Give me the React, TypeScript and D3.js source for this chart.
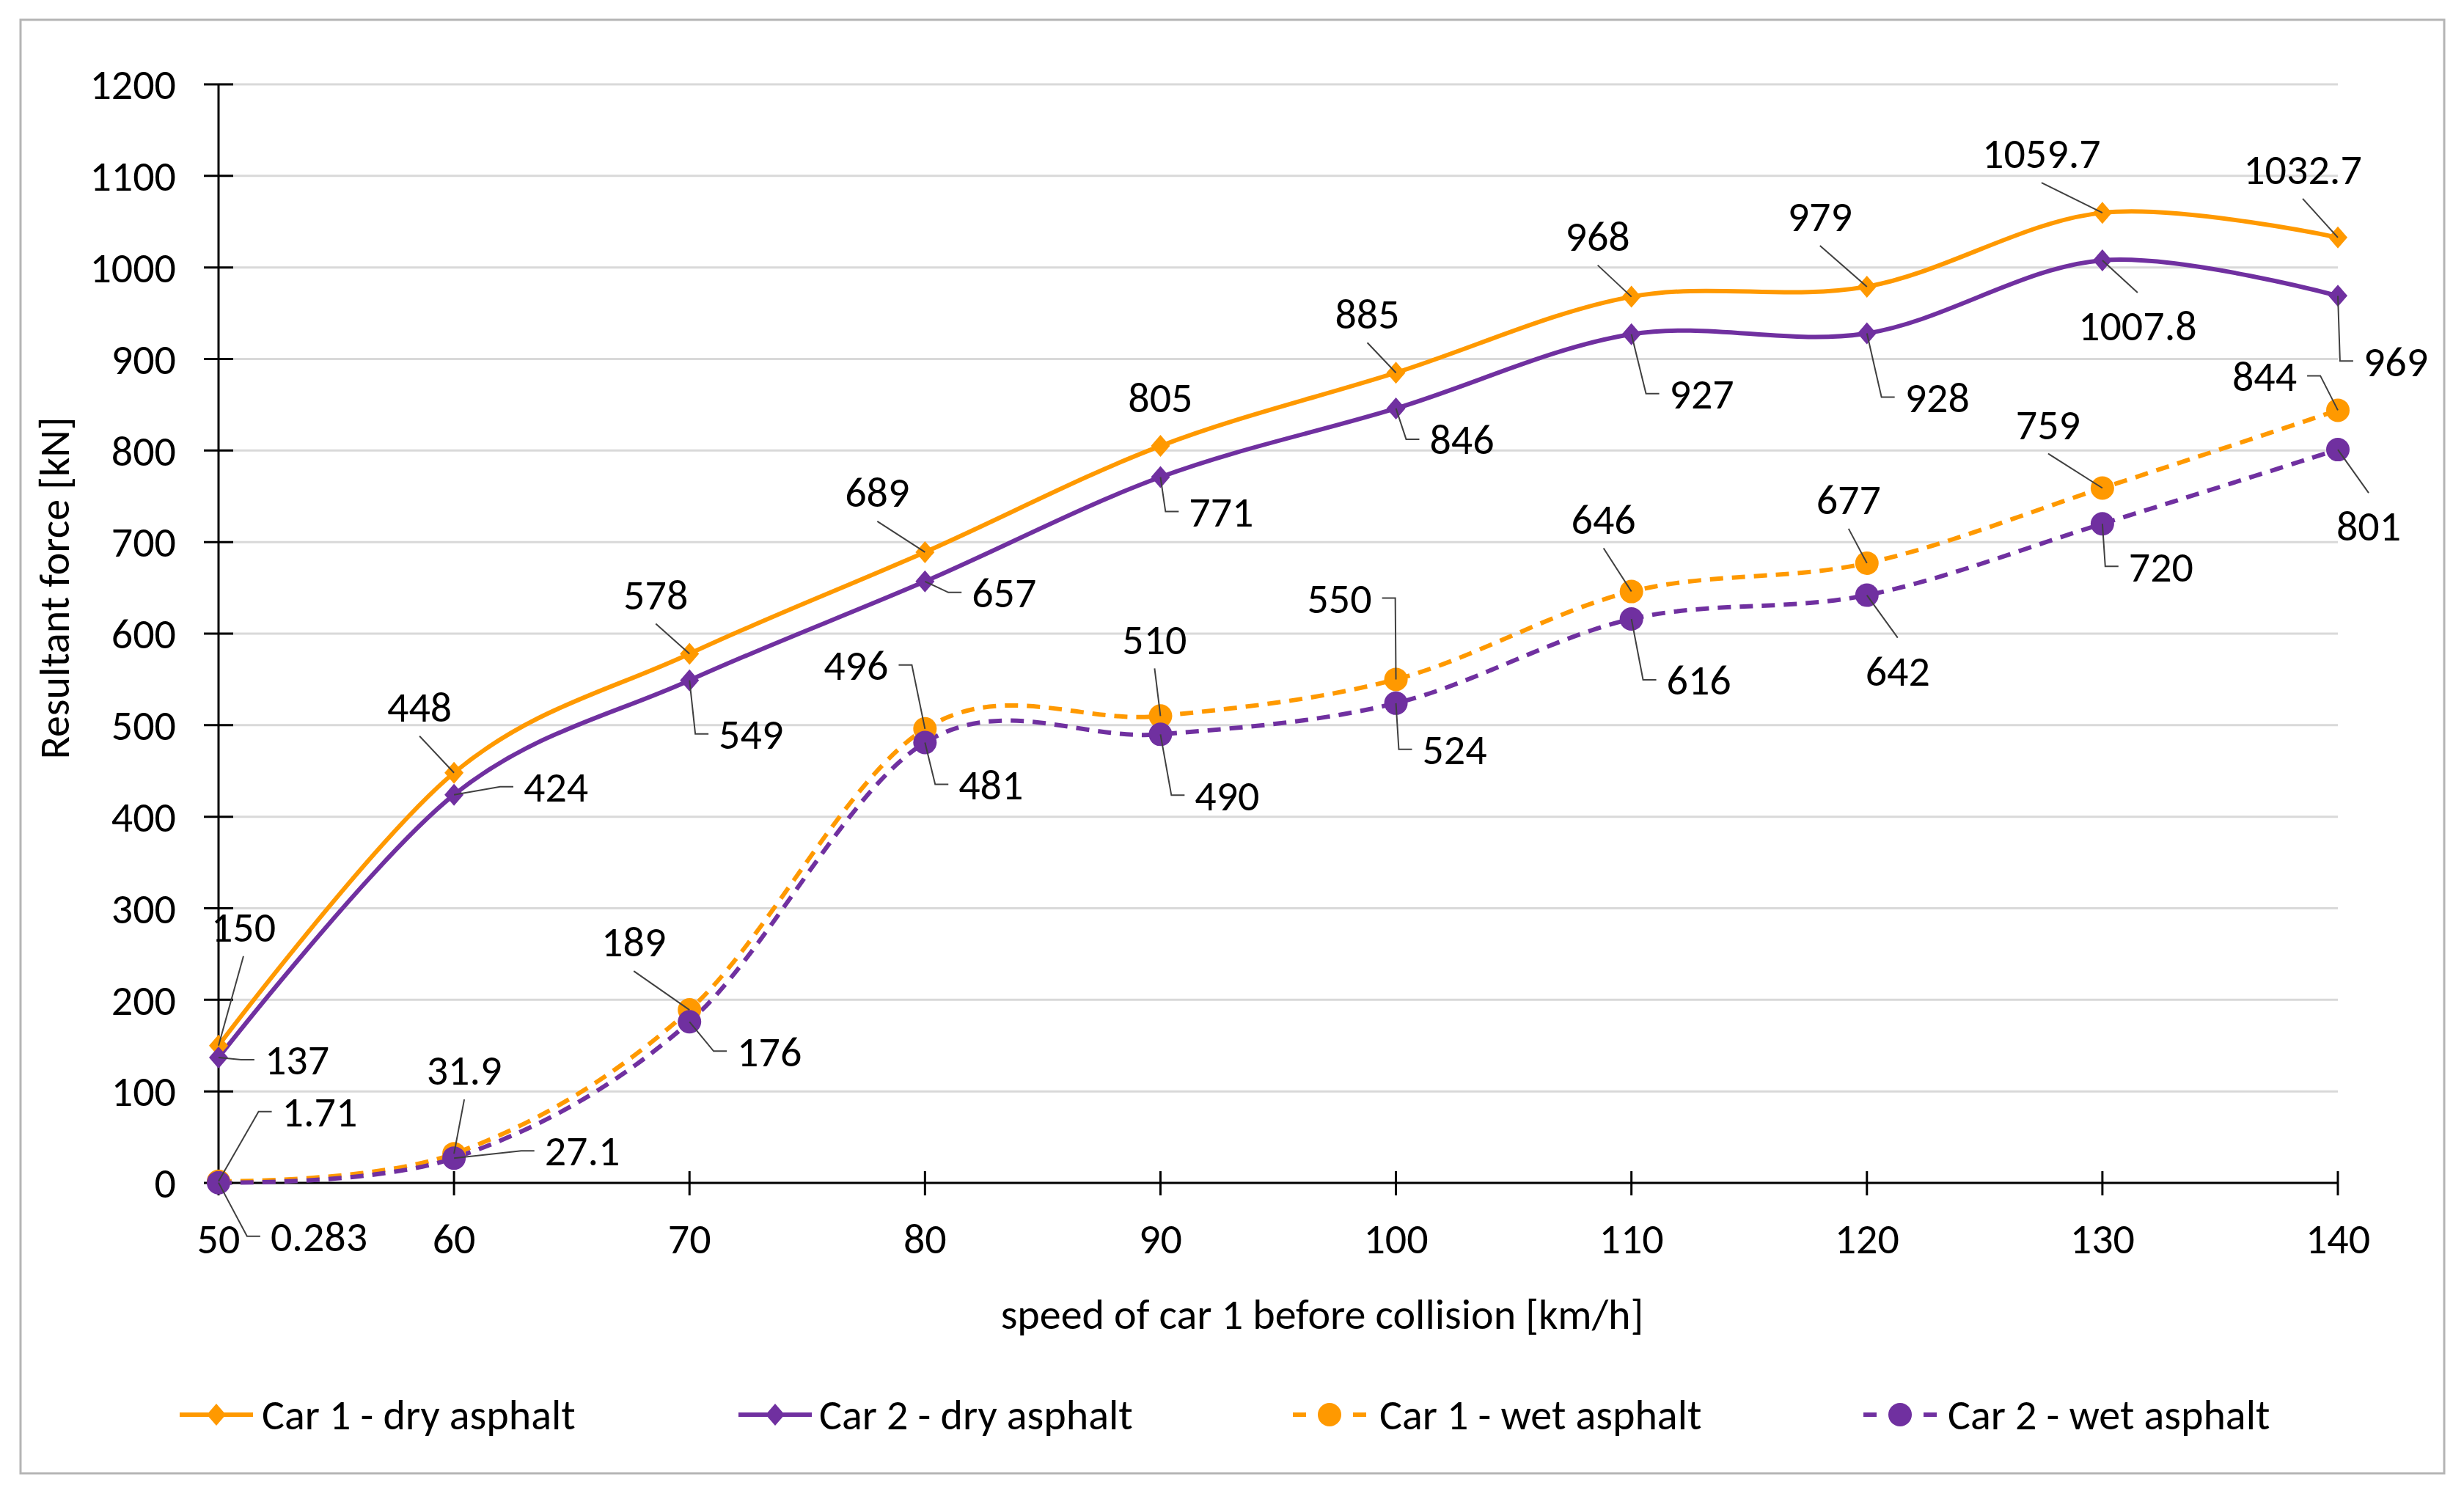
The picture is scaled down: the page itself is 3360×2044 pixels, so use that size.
import React, { useMemo } from "react";
import * as d3 from "d3";

// speed of car 1 [km/h]
const speeds = [50, 60, 70, 80, 90, 100, 110, 120, 130, 140];

const car1Dry = [150, 448, 578, 689, 805, 885, 968, 979, 1059.7, 1032.7];
const car2Dry = [137, 424, 549, 657, 771, 846, 927, 928, 1007.8, 969];
const car1Wet = [1.71, 31.9, 189, 496, 510, 550, 646, 677, 759, 844];
const car2Wet = [0.283, 27.1, 176, 481, 490, 524, 616, 642, 720, 801];

const yTicks = [0, 100, 200, 300, 400, 500, 600, 700, 800, 900, 1000, 1100, 1200];

const seriesNames = ["Car 1 - dry asphalt", "Car 2 - dry asphalt", "Car 1 - wet asphalt", "Car 2 - wet asphalt"];

// label placement: [dx, dy, leader kind] relative to the point
// U = label above, D = label below, L = label to the right, R = label to the left, N = no leader
type Place = [number, number, string];
const car1DryPlace: Place[] = [[34, -162, "U"], [-47, -90, "U"], [-46, -81, "U"], [-65, -82, "U"], [0, -66, "N"], [-39, -81, "U"], [-46, -83, "U"], [-64, -96, "U"], [-83, -81, "U"], [-48, -93, "U"]];
const car2DryPlace: Place[] = [[107, 3, "L"], [139, -11, "L"], [84, 73, "L"], [108, 15, "L"], [83, 47, "L"], [90, 42, "L"], [96, 81, "L"], [96, 87, "L"], [48, 89, "D"], [79, 89, "L"]];
const car1WetPlace: Place[] = [[138, -95, "L"], [14, -114, "U"], [-76, -93, "U"], [-94, -87, "R"], [-8, -105, "U"], [-77, -111, "R"], [-38, -99, "U"], [-25, -87, "U"], [-74, -87, "U"], [-100, -47, "R"]];
const car2WetPlace: Place[] = [[137, 73, "L"], [175, -10, "L"], [109, 40, "L"], [90, 57, "L"], [91, 83, "L"], [80, 63, "L"], [92, 83, "L"], [42, 103, "D"], [80, 58, "L"], [42, 104, "D"]];

const ORANGE = "#FF9900";
const PURPLE = "#7030A0";
const FONT = "Carlito, Calibri, Lato, sans-serif";
const FS = 58;

const W = 3360;
const H = 2044;

let ctx: CanvasRenderingContext2D | null = null;
function textWidth(s: string) {
  if (!ctx) ctx = document.createElement("canvas").getContext("2d");
  if (!ctx) return s.length * FS * 0.5;
  ctx.font = `${FS}px ${FONT}`;
  return ctx.measureText(s).width;
}

function Diamond({ x, y, color, s = 13 }: { x: number; y: number; color: string; s?: number }) {
  return <path d={`M${x},${y - s - 2} L${x + s},${y} L${x},${y + s + 2} L${x - s},${y} Z`} fill={color} />;
}

export default function App() {
  const margin = { left: 298, right: W - 3188, top: 115, bottom: H - 1613 };

  const x = useMemo(() => d3.scaleLinear().domain([50, 140]).range([margin.left, W - margin.right]), []);
  const y = useMemo(() => d3.scaleLinear().domain([0, 1200]).range([H - margin.bottom, margin.top]), []);

  const line = d3
    .line<number>()
    .x((_, i) => x(speeds[i]))
    .y((d) => y(d))
    .curve(d3.curveCardinal.tension(0));

  const series = [
    { name: seriesNames[0], values: car1Dry, color: ORANGE, dashed: false, marker: "diamond", place: car1DryPlace },
    { name: seriesNames[1], values: car2Dry, color: PURPLE, dashed: false, marker: "diamond", place: car2DryPlace },
    { name: seriesNames[2], values: car1Wet, color: ORANGE, dashed: true, marker: "circle", place: car1WetPlace },
    { name: seriesNames[3], values: car2Wet, color: PURPLE, dashed: true, marker: "circle", place: car2WetPlace },
  ];

  const leader = (px: number, py: number, tx: number, ty: number, kind: string, label: string) => {
    const w = textWidth(label);
    if (kind === "U") return `M${tx},${ty + 40} L${px},${py}`;
    if (kind === "D") return `M${px},${py} L${tx},${ty - 45}`;
    if (kind === "L") {
      const left = tx - w / 2;
      return `M${px},${py} L${left - 32},${ty} L${left - 14},${ty}`;
    }
    if (kind === "R") {
      const right = tx + w / 2;
      return `M${right + 14},${ty} L${right + 32},${ty} L${px},${py}`;
    }
    return "";
  };

  // legend marker centres and text starts
  const legendMarker = [295, 1057, 1813, 2591];
  const legendText = [357, 1117, 1881, 2656];
  const legendY = 1929;

  return (
    <svg width={W} height={H} style={{ position: "absolute", left: 0, top: 0, background: "#fff" }} fontFamily={FONT}>
      <rect x={0} y={0} width={W} height={H} fill="#fff" />
      <rect x={28} y={27} width={3305} height={1982} fill="none" stroke="#b5b5b5" strokeWidth={3} />

      {/* gridlines */}
      {yTicks.map((t) =>
        t === 0 ? null : (
          <line key={t} x1={x(50)} x2={x(140)} y1={y(t)} y2={y(t)} stroke="#d9d9d9" strokeWidth={3} />
        )
      )}

      {/* y axis */}
      <line x1={x(50)} x2={x(50)} y1={y(1200)} y2={y(0)} stroke="#000" strokeWidth={3} />
      {yTicks.map((t) => (
        <g key={t}>
          <line x1={x(50) - 20} x2={x(50) + 20} y1={y(t)} y2={y(t)} stroke="#000" strokeWidth={3} />
          <text x={240} y={y(t) + FS * 0.35} textAnchor="end" fontSize={FS} fill="#000">
            {t}
          </text>
        </g>
      ))}

      {/* x axis */}
      <line x1={x(50)} x2={x(140)} y1={y(0)} y2={y(0)} stroke="#000" strokeWidth={3} />
      {speeds.map((s) => (
        <g key={s}>
          <line x1={x(s)} x2={x(s)} y1={y(0) - 16} y2={y(0) + 17} stroke="#000" strokeWidth={3} />
          <text x={x(s)} y={1689 + FS * 0.35} textAnchor="middle" fontSize={FS} fill="#000">
            {s}
          </text>
        </g>
      ))}

      <text x={1803} y={1792 + FS * 0.35} textAnchor="middle" fontSize={FS} fill="#000">
        speed of car 1 before collision [km/h]
      </text>
      <text transform={`translate(${74 + FS * 0.35},802) rotate(-90)`} textAnchor="middle" fontSize={FS} fill="#000">
        Resultant force [kN]
      </text>

      {/* lines */}
      {series.map((s) => (
        <path
          key={s.name}
          d={line(s.values) ?? ""}
          fill="none"
          stroke={s.color}
          strokeWidth={6}
          strokeDasharray={s.dashed ? "18 12" : undefined}
        />
      ))}

      {/* markers */}
      {series.map((s) =>
        s.values.map((v, i) =>
          s.marker === "diamond" ? (
            <Diamond key={s.name + i} x={x(speeds[i])} y={y(v)} color={s.color} />
          ) : (
            <circle key={s.name + i} cx={x(speeds[i])} cy={y(v)} r={16} fill={s.color} />
          )
        )
      )}

      {/* leader lines */}
      {series.map((s) =>
        s.values.map((v, i) => {
          const px = x(speeds[i]);
          const py = y(v);
          const [dx, dy, kind] = s.place[i];
          const d = leader(px, py, px + dx, py + dy, kind, String(v));
          return d ? <path key={s.name + "l" + i} d={d} fill="none" stroke="#404040" strokeWidth={2} /> : null;
        })
      )}

      {/* data labels */}
      {series.map((s) =>
        s.values.map((v, i) => {
          const [dx, dy] = s.place[i];
          return (
            <text
              key={s.name + "t" + i}
              x={x(speeds[i]) + dx}
              y={y(v) + dy + FS * 0.35}
              textAnchor="middle"
              fontSize={FS}
              fill="#000"
            >
              {v}
            </text>
          );
        })
      )}

      {/* legend */}
      {series.map((s, i) => {
        const cx = legendMarker[i];
        return (
          <g key={s.name + "leg"}>
            {s.dashed ? (
              <>
                <line x1={cx - 50} x2={cx - 32} y1={legendY} y2={legendY} stroke={s.color} strokeWidth={6} />
                <line x1={cx + 32} x2={cx + 50} y1={legendY} y2={legendY} stroke={s.color} strokeWidth={6} />
                <circle cx={cx} cy={legendY} r={16} fill={s.color} />
              </>
            ) : (
              <>
                <line x1={cx - 50} x2={cx + 50} y1={legendY} y2={legendY} stroke={s.color} strokeWidth={6} />
                <Diamond x={cx} y={legendY} color={s.color} />
              </>
            )}
            <text x={legendText[i]} y={legendY + FS * 0.35} fontSize={FS} fill="#000">
              {s.name}
            </text>
          </g>
        );
      })}
    </svg>
  );
}
